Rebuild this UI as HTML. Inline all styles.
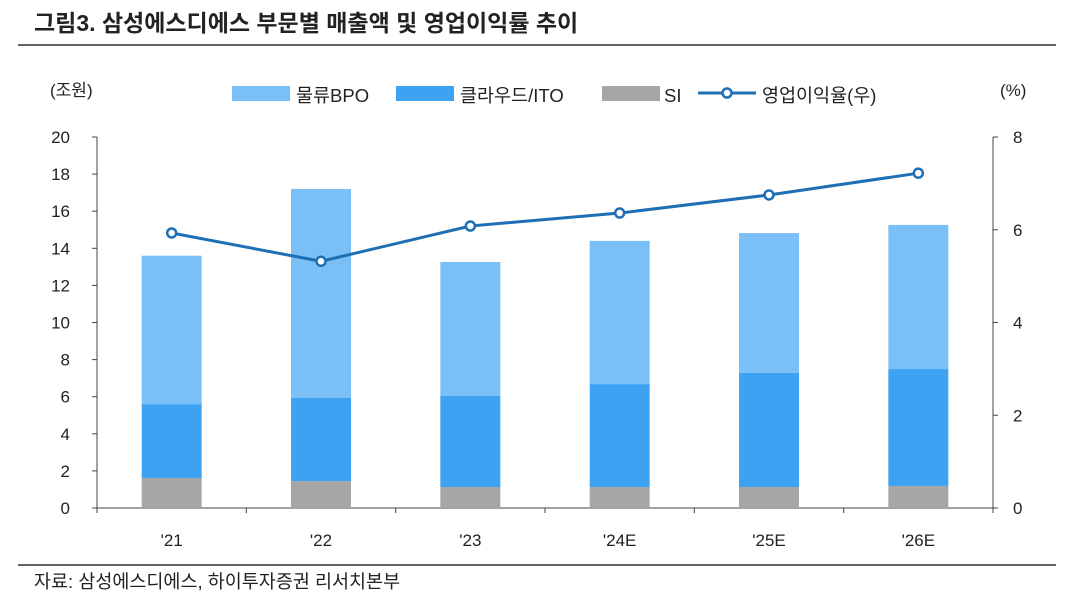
<!DOCTYPE html>
<html><head><meta charset="utf-8">
<style>
body{margin:0;background:#fff;width:1066px;height:608px;overflow:hidden;font-family:"Liberation Sans","Noto Sans CJK KR",sans-serif;}
</style></head>
<body>
<svg width="1066" height="608" xmlns="http://www.w3.org/2000/svg" font-family="Liberation Sans, Noto Sans CJK KR, sans-serif">
<text x="34" y="31" font-size="23" font-weight="bold" fill="#222">그림3. 삼성에스디에스 부문별 매출액 및 영업이익률 추이</text>
<line x1="18" y1="45" x2="1056" y2="45" stroke="#333" stroke-width="1.5"/>
<text x="50" y="96" font-size="17" fill="#222">(조원)</text>
<text x="1000" y="96" font-size="17" fill="#222">(%)</text>
<g>
<rect x="232" y="86" width="58" height="15" fill="#7bbff7"/>
<text x="296" y="102" font-size="18.5" fill="#222">물류BPO</text>
<rect x="396" y="86" width="58" height="15" fill="#3ea2f2"/>
<text x="460" y="102" font-size="18.5" fill="#222">클라우드/ITO</text>
<rect x="602" y="86" width="58" height="15" fill="#a6a6a6"/>
<text x="664" y="102" font-size="18.5" fill="#222">SI</text>
<line x1="698" y1="93" x2="756" y2="93" stroke="#1f6fb5" stroke-width="3"/>
<circle cx="727" cy="93" r="4.5" fill="#fff" stroke="#1f6fb5" stroke-width="2.5"/>
<text x="762" y="102" font-size="18.5" fill="#222">영업이익율(우)</text>
</g>
<g id="plot"></g>
<line x1="18" y1="565" x2="1056" y2="565" stroke="#333" stroke-width="1.5"/>
<text x="34" y="588" font-size="18.5" fill="#222">자료: 삼성에스디에스, 하이투자증권 리서치본부</text>
</svg>
<script>
const categories=["'21","'22","'23","'24E","'25E","'26E"];
const siValues=[1.62,1.45,1.13,1.13,1.13,1.19];
const cloudValues=[3.98,4.48,4.91,5.55,6.15,6.30];
const bpoValues=[8.0,11.27,7.22,7.72,7.54,7.77];
const marginValues=[5.93,5.32,6.08,6.36,6.75,7.22];
const leftTicks=[0,2,4,6,8,10,12,14,16,18,20];
const rightTicks=[0,2,4,6,8];
const NS="http://www.w3.org/2000/svg";
const g=document.getElementById('plot');
const X0=97,X1=993,Y0=508,Y1=137;
const yL=v=>Y0-(v/20)*(Y0-Y1);
const yR=v=>Y0-(v/8)*(Y0-Y1);
const step=(X1-X0)/categories.length;
const xC=i=>X0+step*(i+0.5);
function mk(t,a){const e=document.createElementNS(NS,t);for(const k in a)e.setAttribute(k,a[k]);g.appendChild(e);return e;}
let e;
e=mk('line',{x1:X0,y1:Y1,x2:X0,y2:Y0,stroke:'#444'});


e=mk('line',{x1:X1,y1:Y1,x2:X1,y2:Y0,stroke:'#444'});


e=mk('line',{x1:X0,y1:Y0,x2:X1,y2:Y0,stroke:'#444'});


leftTicks.forEach(v=>{
 e=mk('line',{x1:X0-5,y1:yL(v),x2:X0,y2:yL(v),stroke:'#444'});
 
 
 e=mk('text',{x:70,y:yL(v)+6,'font-size':17,'text-anchor':'end',fill:'#222'});e.textContent=v;
 
 
});
rightTicks.forEach(v=>{
 e=mk('line',{x1:X1,y1:yR(v),x2:X1+5,y2:yR(v),stroke:'#444'});
 
 
 e=mk('text',{x:1013,y:yR(v)+6,'font-size':17,fill:'#222'});e.textContent=v;
 
 
});
for(let i=0;i<=categories.length;i++){
 e=mk('line',{x1:X0+step*i,y1:Y0,x2:X0+step*i,y2:Y0+5,stroke:'#444'});
 
 
}
const bw=60;
categories.forEach((c,i)=>{
 const x=xC(i)-bw/2;
 const s=siValues[i],cl=cloudValues[i],b=bpoValues[i];
 e=mk('rect',{x:x,y:yL(s),width:bw,height:Y0-yL(s),fill:'#a6a6a6'});
 
 
 e=mk('rect',{x:x,y:yL(s+cl),width:bw,height:yL(s)-yL(s+cl),fill:'#3ea2f2'});
 
 
 e=mk('rect',{x:x,y:yL(s+cl+b),width:bw,height:yL(s+cl)-yL(s+cl+b),fill:'#7bbff7'});
 
 
 e=mk('text',{x:xC(i),y:Y0+38,'font-size':17,'text-anchor':'middle',fill:'#222'});e.textContent=c;
 
 
});
e=mk('polyline',{points:marginValues.map((v,i)=>xC(i)+','+yR(v)).join(' '),fill:'none',stroke:'#1f6fb5','stroke-width':3});


marginValues.forEach((v,i)=>{
 e=mk('circle',{cx:xC(i),cy:yR(v),r:4.5,fill:'#fff',stroke:'#1f6fb5','stroke-width':2.5});
 
 
});
</script>
</body></html>
